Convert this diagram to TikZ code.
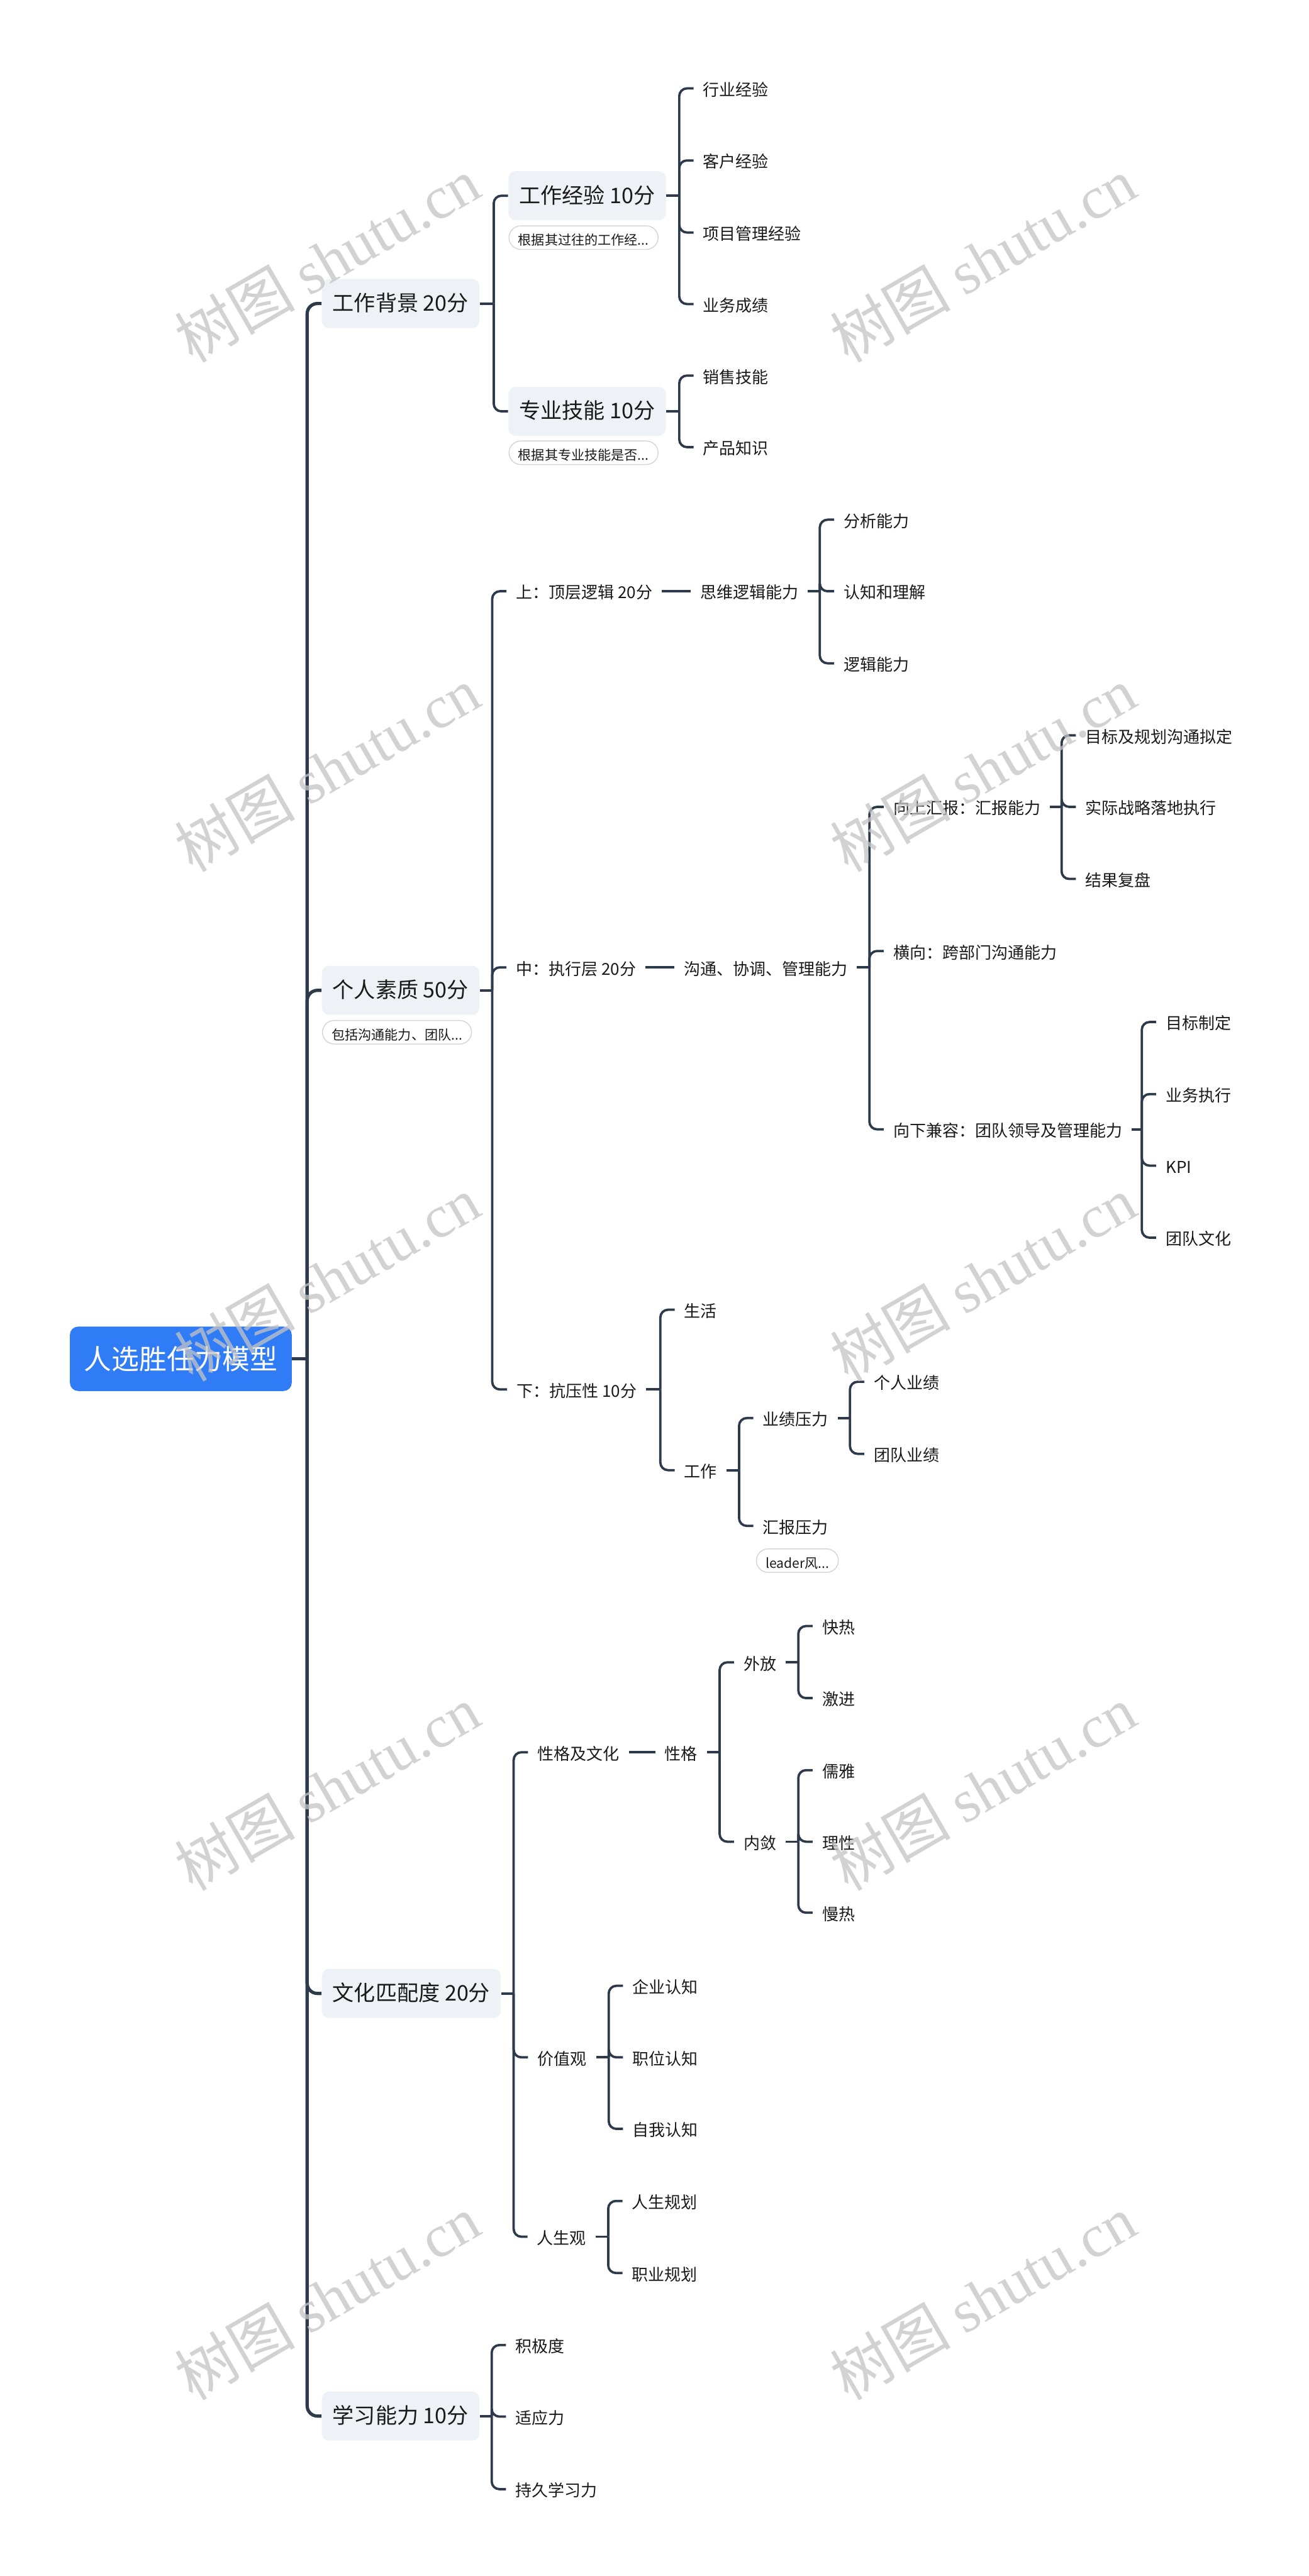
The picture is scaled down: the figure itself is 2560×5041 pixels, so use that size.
\documentclass[tikz,border=0pt]{standalone}
\usepackage{fontspec}
\setmainfont{Noto Sans CJK SC}
\newfontfamily\wmserif{Liberation Serif}
\usetikzlibrary{calc}
\definecolor{lc}{HTML}{2D3A4B}
\definecolor{rootblue}{HTML}{2F7CF6}
\definecolor{topicgray}{HTML}{EEF1F5}
\definecolor{notegray}{HTML}{D6D6D6}
\definecolor{tc}{HTML}{1A1A1A}
\definecolor{wmgray}{HTML}{C4C4C4}
\newcommand\mmkids[3]{%
  \coordinate (#1-j) at ($(#1.east -| #2.west)+(-28,0)$);
  \draw[edge] (#1.east) -- (#1-j);
  \foreach \c in {#3} { \draw[edge] (#1-j) |- (\c.west); }%
}
\begin{document}
\begin{tikzpicture}[x=0.25pt,y=-0.25pt,
  edge/.style={draw=lc, line width=1.15pt, rounded corners=3.75pt},
  trunkedge/.style={draw=lc, line width=1.6pt, rounded corners=5pt},
  rootbox/.style={fill=rootblue, rounded corners=4pt, text=white, font=\fontsize{13.5}{16}\selectfont, minimum height=31.5pt, inner xsep=7pt, anchor=west},
  topic/.style={fill=topicgray, rounded corners=3.5pt, text=tc, font=\fontsize{10.5}{12}\selectfont, minimum height=24pt, inner xsep=5.25pt, anchor=west, text height=0.85em, text depth=0.12em},
  plain/.style={text=tc, font=\fontsize{8}{10}\selectfont, inner xsep=4.5pt, inner ysep=1pt, anchor=west, text height=0.85em, text depth=0.12em},
  note/.style={draw=notegray, line width=0.45pt, rounded corners=5.75pt, fill=white, text=tc, font=\fontsize{6.5}{8}\selectfont, minimum height=11.5pt, inner xsep=4.5pt, inner ysep=0pt, anchor=west, text height=0.85em, text depth=0.12em},
  wm/.style={text=wmgray, opacity=0.75, font=\fontsize{29.5}{32}\selectfont, rotate=30, inner sep=0pt}
]
\fill[white] (0,0) rectangle (2560,5041);
\useasboundingbox (0,0) rectangle (2560,5041);

% root and main topics
\node[rootbox] (root) at (136,2659) {人选胜任力模型};
\node[topic] (tA) at (629,594) {工作背景 20分};
\node[topic] (tB) at (629,1938) {个人素质 50分};
\node[note] (nB) at (630,2020) {包括沟通能力、团队...};
\node[topic] (tC) at (629,3901) {文化匹配度 20分};
\node[topic] (tD) at (629,4728) {学习能力 10分};

% A
\node[topic] (a1) at (994,383) {工作经验 10分};
\node[note] (na1) at (995,465) {根据其过往的工作经...};
\node[topic] (a2) at (994,805) {专业技能 10分};
\node[note] (na2) at (995,886) {根据其专业技能是否...};
\node[plain] (a11) at (1357,173) {行业经验};
\node[plain] (a12) at (1357,314) {客户经验};
\node[plain] (a13) at (1357,455) {项目管理经验};
\node[plain] (a14) at (1357,595) {业务成绩};
\node[plain] (a21) at (1357,735) {销售技能};
\node[plain] (a22) at (1357,875) {产品知识};

% B
\node[plain] (b1) at (991,1157) {上：顶层逻辑 20分};
\node[plain] (b1c) at (1351,1157) {思维逻辑能力};
\node[plain] (b11) at (1632,1017) {分析能力};
\node[plain] (b12) at (1632,1157) {认知和理解};
\node[plain] (b13) at (1632,1298) {逻辑能力};
\node[plain] (b2) at (991,1893) {中：执行层 20分};
\node[plain] (b2c) at (1319,1893) {沟通、协调、管理能力};
\node[plain] (b2u) at (1729,1579) {向上汇报：汇报能力};
\node[plain] (b2u1) at (2105,1439) {目标及规划沟通拟定};
\node[plain] (b2u2) at (2105,1579) {实际战略落地执行};
\node[plain] (b2u3) at (2105,1720) {结果复盘};
\node[plain] (b2h) at (1729,1861) {横向：跨部门沟通能力};
\node[plain] (b2d) at (1729,2210) {向下兼容：团队领导及管理能力};
\node[plain] (b2d1) at (2262,2000) {目标制定};
\node[plain] (b2d2) at (2262,2141) {业务执行};
\node[plain] (b2d3) at (2262,2281) {KPI};
\node[plain] (b2d4) at (2262,2422) {团队文化};
\node[plain] (b3) at (992,2719) {下：抗压性 10分};
\node[plain] (b31) at (1320,2563) {生活};
\node[plain] (b32) at (1320,2877) {工作};
\node[plain] (b321) at (1474,2775) {业绩压力};
\node[plain] (b322) at (1474,2986) {汇报压力};
\node[note] (nb322) at (1479,3054) {leader风...};
\node[plain] (b3211) at (1691,2704) {个人业绩};
\node[plain] (b3212) at (1691,2845) {团队业绩};

% C
\node[plain] (c1) at (1033,3429) {性格及文化};
\node[plain] (c1c) at (1282,3429) {性格};
\node[plain] (c11) at (1436,3253) {外放};
\node[plain] (c111) at (1590,3182) {快热};
\node[plain] (c112) at (1590,3323) {激进};
\node[plain] (c12) at (1436,3604) {内敛};
\node[plain] (c121) at (1590,3464) {儒雅};
\node[plain] (c122) at (1590,3604) {理性};
\node[plain] (c123) at (1590,3743) {慢热};
\node[plain] (c2) at (1033,4026) {价值观};
\node[plain] (c21) at (1219,3886) {企业认知};
\node[plain] (c22) at (1219,4026) {职位认知};
\node[plain] (c23) at (1219,4166) {自我认知};
\node[plain] (c3) at (1032,4377) {人生观};
\node[plain] (c31) at (1218,4307) {人生规划};
\node[plain] (c32) at (1218,4448) {职业规划};

% D
\node[plain] (d1) at (990,4589) {积极度};
\node[plain] (d2) at (990,4729) {适应力};
\node[plain] (d3) at (990,4871) {持久学习力};

% trunk
\coordinate (root-j) at ($(root.east -| tA.west)+(-28,0)$);
\draw[trunkedge] (root.east) -- (root-j);
\foreach \c in {tA,tB,tC,tD} { \draw[trunkedge] (root-j) |- (\c.west); }

% connectors
\mmkids{tA}{a1}{a1,a2}
\mmkids{a1}{a11}{a11,a12,a13,a14}
\mmkids{a2}{a21}{a21,a22}
\mmkids{tB}{b1}{b1,b2,b3}
\draw[edge] (b1.east) -- (b1c.west);
\mmkids{b1c}{b11}{b11,b12,b13}
\draw[edge] (b2.east) -- (b2c.west);
\mmkids{b2c}{b2u}{b2u,b2h,b2d}
\mmkids{b2u}{b2u1}{b2u1,b2u2,b2u3}
\mmkids{b2d}{b2d1}{b2d1,b2d2,b2d3,b2d4}
\mmkids{b3}{b31}{b31,b32}
\mmkids{b32}{b321}{b321,b322}
\mmkids{b321}{b3211}{b3211,b3212}
\mmkids{tC}{c1}{c1,c2,c3}
\draw[edge] (c1.east) -- (c1c.west);
\mmkids{c1c}{c11}{c11,c12}
\mmkids{c11}{c111}{c111,c112}
\mmkids{c12}{c121}{c121,c122,c123}
\mmkids{c2}{c21}{c21,c22,c23}
\mmkids{c3}{c31}{c31,c32}
\mmkids{tD}{d1}{d1,d2,d3}

% watermarks
\node[wm] (wm1) at (640,508) {树图 {\wmserif shutu.cn}};
\node[wm] (wm2) at (1923,508) {树图 {\wmserif shutu.cn}};
\node[wm] (wm3) at (640,1505) {树图 {\wmserif shutu.cn}};
\node[wm] (wm4) at (1923,1505) {树图 {\wmserif shutu.cn}};
\node[wm] (wm5) at (640,2502) {树图 {\wmserif shutu.cn}};
\node[wm] (wm6) at (1923,2502) {树图 {\wmserif shutu.cn}};
\node[wm] (wm7) at (640,3499) {树图 {\wmserif shutu.cn}};
\node[wm] (wm8) at (1923,3499) {树图 {\wmserif shutu.cn}};
\node[wm] (wm9) at (640,4496) {树图 {\wmserif shutu.cn}};
\node[wm] (wm10) at (1923,4496) {树图 {\wmserif shutu.cn}};
\end{tikzpicture}
\end{document}
